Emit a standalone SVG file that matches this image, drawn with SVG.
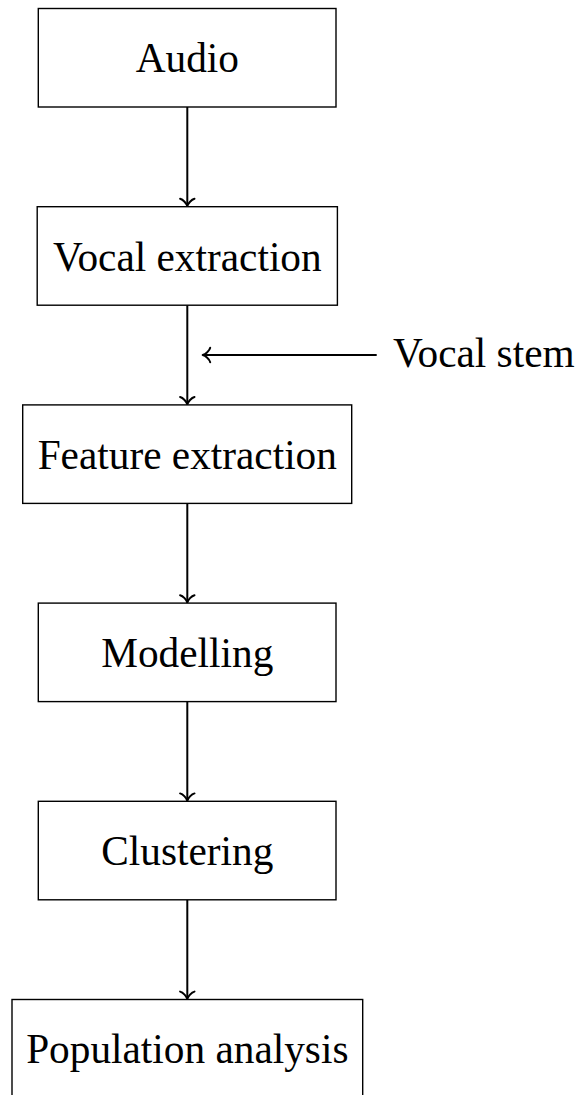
<svg xmlns="http://www.w3.org/2000/svg" width="579" height="1095" viewBox="0 0 579 1095">
  <style>
    .box { fill: #ffffff; stroke: #000000; stroke-width: 1.4; }
    .lbl { font-family: "Liberation Serif", "Times New Roman", serif; font-size: 41.3px; fill: #000000; text-anchor: middle; }
    .edge { fill: none; stroke: #000000; stroke-width: 2; }
  </style>
  <defs>
    <marker id="arr" markerUnits="userSpaceOnUse" viewBox="-9 -9 12 18" markerWidth="12" markerHeight="18" refX="0" refY="0" orient="auto" overflow="visible">
      <path d="M -6.5,-7.2 C -5.8,-4.2 -1.8,-0.7 1,0 C -1.8,0.7 -5.8,4.2 -6.5,7.2" fill="none" stroke="#000000" stroke-width="2" stroke-linecap="round" stroke-linejoin="round"/>
    </marker>
  </defs>
  <rect width="579" height="1095" fill="#ffffff"/>
  <g id="connectors">
    <line class="edge" x1="187.3" y1="107" x2="187.3" y2="205.3" marker-end="url(#arr)"/>
    <line class="edge" x1="187.3" y1="305.2" x2="187.3" y2="403.5" marker-end="url(#arr)"/>
    <line class="edge" x1="187.3" y1="503.4" x2="187.3" y2="601.7" marker-end="url(#arr)"/>
    <line class="edge" x1="187.3" y1="701.6" x2="187.3" y2="799.9" marker-end="url(#arr)"/>
    <line class="edge" x1="187.3" y1="899.8" x2="187.3" y2="998.1" marker-end="url(#arr)"/>
    <line class="edge" x1="376.7" y1="355" x2="203.7" y2="355" marker-end="url(#arr)"/>
  </g>
  <g id="audio">
    <rect class="box" x="38.3" y="8.5" width="297.7" height="98.5"/>
    <text class="lbl" x="187.3" y="72.3">Audio</text>
  </g>
  <g id="vocal-extraction">
    <rect class="box" x="37.2" y="206.7" width="300.2" height="98.5"/>
    <text class="lbl" x="187.3" y="270.5">Vocal extraction</text>
  </g>
  <g id="vocal-stem">
    <text class="lbl" x="393" y="366.7" style="text-anchor:start">Vocal stem</text>
  </g>
  <g id="feature-extraction">
    <rect class="box" x="22.7" y="404.9" width="329" height="98.5"/>
    <text class="lbl" x="187.3" y="468.7">Feature extraction</text>
  </g>
  <g id="modelling">
    <rect class="box" x="38.3" y="603.1" width="297.7" height="98.5"/>
    <text class="lbl" x="187.3" y="666.9">Modelling</text>
  </g>
  <g id="clustering">
    <rect class="box" x="38.3" y="801.3" width="297.7" height="98.5"/>
    <text class="lbl" x="187.3" y="865.1">Clustering</text>
  </g>
  <g id="population-analysis">
    <rect class="box" x="12" y="999.5" width="350.7" height="98.5"/>
    <text class="lbl" x="187.3" y="1063.3">Population analysis</text>
  </g>
</svg>
